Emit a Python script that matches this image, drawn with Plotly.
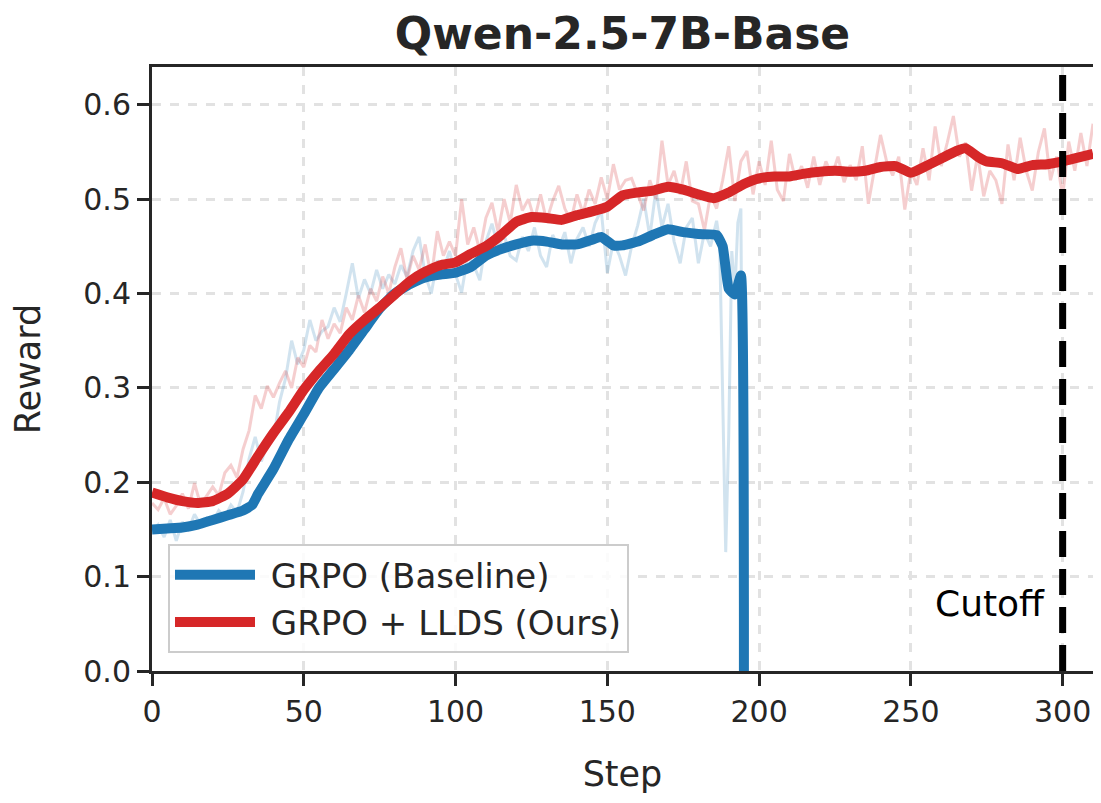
import plotly.graph_objects as go

# ---------------- data ----------------
red_raw_steps = list(range(0, 311, 2))
red_raw = [
    0.178, 0.171, 0.183, 0.166, 0.175, 0.188, 0.172, 0.199, 0.176, 0.186,
    0.195, 0.186, 0.210, 0.218, 0.205, 0.235, 0.255, 0.292, 0.278, 0.302,
    0.290, 0.305, 0.318, 0.300, 0.332, 0.322, 0.345, 0.338, 0.372, 0.352,
    0.368, 0.358, 0.385, 0.372, 0.398, 0.380, 0.405, 0.392, 0.418, 0.400,
    0.428, 0.448, 0.415, 0.440, 0.425, 0.452, 0.417, 0.466, 0.440, 0.455,
    0.440, 0.500, 0.452, 0.470, 0.445, 0.480, 0.496, 0.465, 0.500, 0.475,
    0.515, 0.488, 0.500, 0.478, 0.505, 0.477, 0.498, 0.514, 0.490, 0.477,
    0.505, 0.485, 0.510, 0.495, 0.523, 0.500, 0.537, 0.510, 0.520, 0.522,
    0.505, 0.488, 0.520, 0.500, 0.562, 0.515, 0.530, 0.505, 0.540, 0.498,
    0.495, 0.467, 0.505, 0.490, 0.520, 0.556, 0.498, 0.540, 0.551, 0.505,
    0.540, 0.515, 0.562, 0.510, 0.498, 0.548, 0.520, 0.535, 0.512, 0.545,
    0.515, 0.540, 0.525, 0.545, 0.518, 0.536, 0.520, 0.556, 0.495, 0.530,
    0.568, 0.540, 0.525, 0.545, 0.489, 0.530, 0.515, 0.554, 0.520, 0.577,
    0.535, 0.560, 0.588, 0.545, 0.560, 0.509, 0.547, 0.503, 0.530, 0.520,
    0.495, 0.558, 0.520, 0.565, 0.530, 0.509, 0.550, 0.575, 0.520, 0.545,
    0.502, 0.561, 0.530, 0.570, 0.535, 0.580,
]

blue_raw_steps = list(range(0, 187, 2)) + list(range(187, 196))
blue_raw = [
    0.148, 0.155, 0.142, 0.160, 0.138, 0.158, 0.150, 0.166, 0.155, 0.162,
    0.158, 0.170, 0.163, 0.176, 0.168, 0.190, 0.225, 0.248, 0.222, 0.240,
    0.246, 0.285, 0.310, 0.350, 0.325, 0.340, 0.372, 0.350, 0.360, 0.365,
    0.385, 0.370, 0.400, 0.432, 0.395, 0.415, 0.400, 0.425, 0.405, 0.420,
    0.410, 0.430, 0.418, 0.445, 0.460, 0.420, 0.400, 0.435, 0.425, 0.445,
    0.420, 0.401, 0.440, 0.430, 0.414, 0.455, 0.474, 0.450, 0.462, 0.440,
    0.435, 0.460, 0.445, 0.470, 0.440, 0.428, 0.462, 0.448, 0.465, 0.432,
    0.458, 0.470, 0.450, 0.475, 0.488, 0.422, 0.455, 0.440, 0.419, 0.450,
    0.472, 0.500, 0.460, 0.510, 0.470, 0.495, 0.455, 0.432, 0.470, 0.480,
    0.432, 0.465, 0.450, 0.477,
    0.455, 0.280, 0.126, 0.250, 0.445, 0.400, 0.475, 0.490, 0.0,
]

red_smooth_steps = [0, 5, 10, 15, 20, 25, 30, 35, 40, 45, 50, 55, 60, 65, 70, 75, 80, 85, 90, 95,
                    100, 105, 110, 115, 120, 125, 130, 135, 140, 145, 150, 155, 160, 165, 170, 175,
                    180, 185, 190, 195, 200, 205, 210, 215, 220, 225, 230, 235, 240, 245, 250, 255,
                    260, 265, 268, 272, 275, 280, 285, 290, 295, 300, 305, 310]
red_smooth = [0.189, 0.184, 0.180, 0.178, 0.180, 0.188, 0.203, 0.228, 0.252, 0.274, 0.298, 0.318,
              0.336, 0.357, 0.372, 0.385, 0.399, 0.413, 0.423, 0.430, 0.433, 0.442, 0.450, 0.462,
              0.476, 0.481, 0.480, 0.478, 0.483, 0.487, 0.492, 0.504, 0.507, 0.509, 0.513, 0.510,
              0.505, 0.501, 0.507, 0.516, 0.522, 0.524, 0.524, 0.527, 0.529, 0.530, 0.529, 0.530,
              0.534, 0.535, 0.528, 0.535, 0.543, 0.551, 0.554, 0.545, 0.540, 0.538, 0.532, 0.536,
              0.537, 0.540, 0.544, 0.548]

blue_smooth_steps = [0, 5, 10, 15, 20, 25, 30, 33, 35, 40, 45, 50, 55, 60, 65, 70, 75, 80, 85, 90,
                     95, 100, 105, 110, 115, 120, 125, 130, 135, 140, 145, 148, 152, 155, 160, 165,
                     170, 175, 180, 186, 188, 190, 192, 194, 195]
blue_smooth = [0.150, 0.151, 0.152, 0.155, 0.160, 0.165, 0.170, 0.176, 0.188, 0.214, 0.245, 0.272,
               0.300, 0.320, 0.340, 0.362, 0.384, 0.400, 0.410, 0.417, 0.420, 0.422, 0.428, 0.440,
               0.447, 0.452, 0.456, 0.455, 0.452, 0.452, 0.457, 0.460, 0.451, 0.451, 0.455, 0.462,
               0.468, 0.465, 0.463, 0.462, 0.450, 0.405, 0.399, 0.419, 0.0]

series_names = ["GRPO (Baseline)", "GRPO + LLDS (Ours)"]
cutoff_step = 300
cutoff_label = "Cutoff"
x_ticks = [0, 50, 100, 150, 200, 250, 300]
y_ticks = [0.0, 0.1, 0.2, 0.3, 0.4, 0.5, 0.6]

# ---------------- style ----------------
BLUE = "#1f77b4"
RED = "#d62728"
INK = "#262626"
FONT = "DejaVu Sans"
W, H = 1093, 795  # page body has an 8px margin

fig = go.Figure()
fig.add_trace(go.Scatter(x=blue_raw_steps, y=blue_raw, mode="lines",
                         line=dict(color=BLUE, width=3), opacity=0.2,
                         showlegend=False, hoverinfo="skip"))
fig.add_trace(go.Scatter(x=red_raw_steps, y=red_raw, mode="lines",
                         line=dict(color=RED, width=3), opacity=0.22,
                         showlegend=False, hoverinfo="skip"))
fig.add_trace(go.Scatter(x=blue_smooth_steps, y=blue_smooth, mode="lines",
                         line=dict(color=BLUE, width=10, shape="spline", smoothing=0.4),
                         name="\u00a0" + series_names[0]))
fig.add_trace(go.Scatter(x=red_smooth_steps, y=red_smooth, mode="lines",
                         line=dict(color=RED, width=10, shape="spline", smoothing=0.4),
                         name="\u00a0" + series_names[1]))

fig.add_shape(type="line", xref="x", yref="paper", x0=cutoff_step, x1=cutoff_step,
              y0=0, y1=1, line=dict(color="black", width=7, dash="26px,12px"), layer="above")
fig.add_annotation(x=cutoff_step, y=0.071, xref="x", yref="y", text=cutoff_label,
                   showarrow=False, xanchor="right", yanchor="middle", xshift=-16,
                   font=dict(family=FONT, size=36, color="black"))

axis_common = dict(
    showline=True, linecolor=INK, linewidth=3, mirror=True,
    ticks="outside", ticklen=12, tickwidth=3, tickcolor=INK,
    showgrid=True, gridcolor="#e2e2e2", gridwidth=2.5, griddash="dash",
    zeroline=False, tickfont=dict(family=FONT, size=30, color=INK),
    automargin=False,
)

fig.update_layout(
    width=W, height=H,
    margin=dict(l=144, r=8, t=59, b=132, autoexpand=False),
    paper_bgcolor="white", plot_bgcolor="white",
    title=dict(text="<b>Qwen-2.5-7B-Base</b>", x=0.5, xanchor="center", xref="paper",
               y=1 - 26 / H, yanchor="middle", yref="container",
               font=dict(family=FONT, size=44, color=INK)),
    xaxis=dict(range=[0, 310], tickvals=x_ticks,
               title=dict(text="Step", font=dict(family=FONT, size=35, color=INK), standoff=34),
               **axis_common),
    yaxis=dict(range=[0, 0.64], tickvals=y_ticks, tickformat=".1f",
               title=dict(text="Reward", font=dict(family=FONT, size=35, color=INK), standoff=37),
               **axis_common),
    legend=dict(x=0.017, y=0.21, xanchor="left", yanchor="top",
                bgcolor="rgba(255,255,255,0.85)", bordercolor="#cccccc", borderwidth=2,
                font=dict(family=FONT, size=34, color=INK), itemwidth=80,
                tracegroupgap=0),
    font=dict(family=FONT, color=INK),
)

fig.write_html("out.html")
